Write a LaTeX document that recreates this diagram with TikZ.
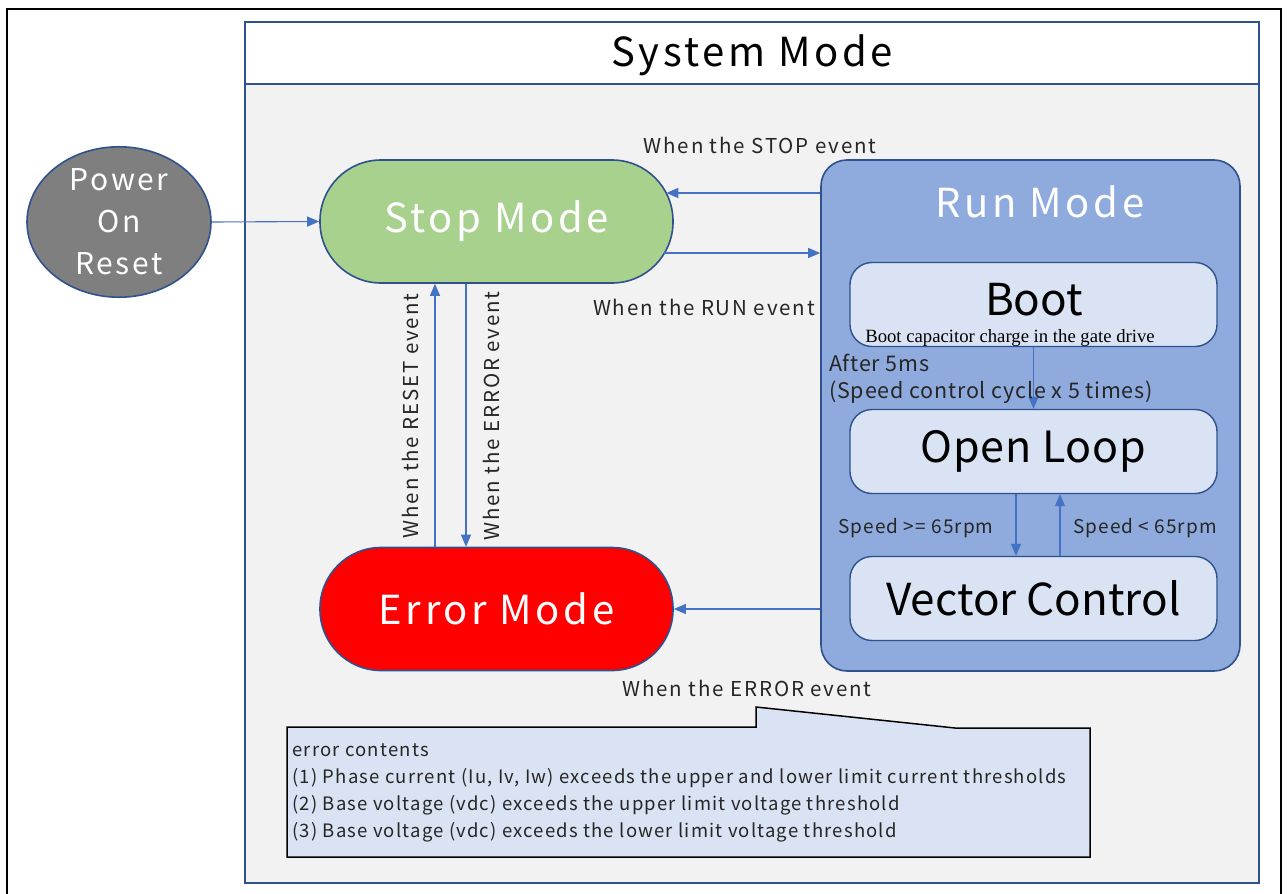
\documentclass[tikz,border=0pt]{standalone}
\usepackage{fontspec}
\setmainfont{Noto Sans CJK JP}
\newfontfamily\wide{Noto Sans CJK JP}[LetterSpace=9]
\newfontfamily\midsp{Noto Sans CJK JP}[LetterSpace=5.5]
\newfontfamily\cosp{Noto Sans CJK JP}[LetterSpace=6.5]
\newfontfamily\smsp{Noto Sans CJK JP}[LetterSpace=2]
\newfontfamily\afsp{Noto Sans CJK JP}[LetterSpace=3.7]
\newfontfamily\serifb{Liberation Serif}
\usetikzlibrary{arrows.meta,shapes.geometric}
\definecolor{sysblue}{HTML}{2F528F}
\definecolor{bggray}{HTML}{F2F2F2}
\definecolor{stopgreen}{HTML}{A9D18E}
\definecolor{runblue}{HTML}{8FAADC}
\definecolor{innerblue}{HTML}{DAE3F3}
\definecolor{arrblue}{HTML}{4472C4}
\definecolor{pgray}{HTML}{7F7F7F}
\newcommand{\fsz}[1]{\fontsize{#1}{#1}\selectfont}
\begin{document}
\begin{tikzpicture}[x=1pt,y=-1pt,
  stadium/.style={draw=sysblue,line width=1.6pt,rounded corners=61pt,minimum width=353pt,minimum height=123pt,inner sep=0pt,font=\wide\fsz{40}},
  inner/.style={draw=sysblue,line width=1.4pt,fill=innerblue,rounded corners=22pt,minimum width=367pt,minimum height=84pt,inner sep=0pt},
  arr/.style={draw=arrblue,line width=1.1pt,-{Triangle[length=12pt,width=10pt]}},
  lbl/.style={text=black!85,inner sep=0pt,font=\wide\fsz{20.5}},
]
\useasboundingbox (0,0) rectangle (1288,894);
% outer frame
\draw[black,line width=1.2pt] (7,9) rectangle (1281,900);
% system mode box
\draw[sysblue,line width=1.6pt,fill=white] (245,22) rectangle (1259,84);
\draw[sysblue,line width=1.6pt,fill=bggray] (245,84) rectangle (1259,883);
\node[inner sep=0pt,font=\wide\fsz{40}] (systitle) at (752,55) {System Mode};
% power on reset
\node[ellipse,draw=sysblue,line width=1.6pt,fill=pgray,minimum width=184pt,minimum height=142pt,inner sep=0pt,text=white,align=center,font=\wide\fontsize{30}{42}\selectfont] (power) at (119,222)
  {Power\\On\\Reset};
% stop / error
\node[stadium,fill=stopgreen,text=white] (stop) at (496.5,221.5) {Stop Mode};
\node[stadium,fill=red,text=white] (error) at (496.5,609) {Error Mode};
% run mode
\node[draw=sysblue,line width=1.6pt,fill=runblue,rounded corners=26pt,minimum width=419pt,minimum height=511pt,inner sep=0pt] (run) at (1030.5,415.5) {};
\node[text=white,inner sep=0pt,font=\wide\fsz{40}] (runtitle) at (1040,202) {Run Mode};
\node[inner] (boot) at (1033.5,304.5) {};
\node[inner sep=0pt,font=\fsz{44}] (boottxt) at (1034,300) {Boot};
\node[inner sep=0pt] (bootsub) at (1010,338) {\serifb\fsz{18.7}Boot capacitor charge in the gate drive};
\node[inner,font=\smsp\fsz{43}] (open) at (1033.5,451.5) {Open Loop};
\node[inner,font=\fsz{44}] (vec) at (1033.5,598.5) {Vector Control};
% inner arrows
\draw[arr] (boot.south) -- (open.north);
\node[lbl,anchor=west,align=left,font=\afsp\fontsize{21.5}{27}\selectfont] (after) at (829,379) {After 5ms\\(Speed control cycle x 5 times)};
\draw[arr] (open.south -| 1016,0) -- (vec.north -| 1016,0);
\draw[arr] (vec.north -| 1060,0) -- (open.south -| 1060,0);
\node[lbl,font=\midsp\fsz{19}] (sp1) at (916,528) {Speed >= 65rpm};
\node[lbl,font=\midsp\fsz{19}] (sp2) at (1145,528) {Speed < 65rpm};
% main arrows
\draw[arr] (power.east) -- (stop.west);
\draw[arr,shorten >=-7.5pt] (run.west |- 0,193) -- (stop.east |- 0,193);
\draw[arr,shorten <=-9.5pt] (stop.east |- 0,253) -- (run.west |- 0,253);
\draw[arr] (run.west |- error.east) -- (error.east);
\draw[arr] (error.north -| 435,0) -- (stop.south -| 435,0);
\draw[arr] (stop.south -| 466,0) -- (error.north -| 466,0);
\node[lbl] (stoplbl) at (760,145) {When the STOP event};
\node[lbl] (runlbl) at (704,307) {When the RUN event};
\node[lbl,rotate=90] (resetlbl) at (410,416) {When the RESET event};
\node[lbl,rotate=90] (errlbl1) at (491,416) {When the ERROR event};
\node[lbl] (errlbl2) at (747,688) {When the ERROR event};
% callout
\draw[black,line width=1.5pt,fill=innerblue] (287,727) -- (756,727) -- (756,707) -- (955,728) -- (1090,728) -- (1090,857) -- (287,857) -- cycle;
\node[lbl,anchor=north west,align=left,font=\cosp\fontsize{18.5}{27}\selectfont] (errtxt) at (292,743)
 {error contents\\
 (1) Phase current (Iu, Iv, Iw) exceeds the upper and lower limit current thresholds\\
 (2) Base voltage (vdc) exceeds the upper limit voltage threshold\\
 (3) Base voltage (vdc) exceeds the lower limit voltage threshold};
\end{tikzpicture}
\end{document}
